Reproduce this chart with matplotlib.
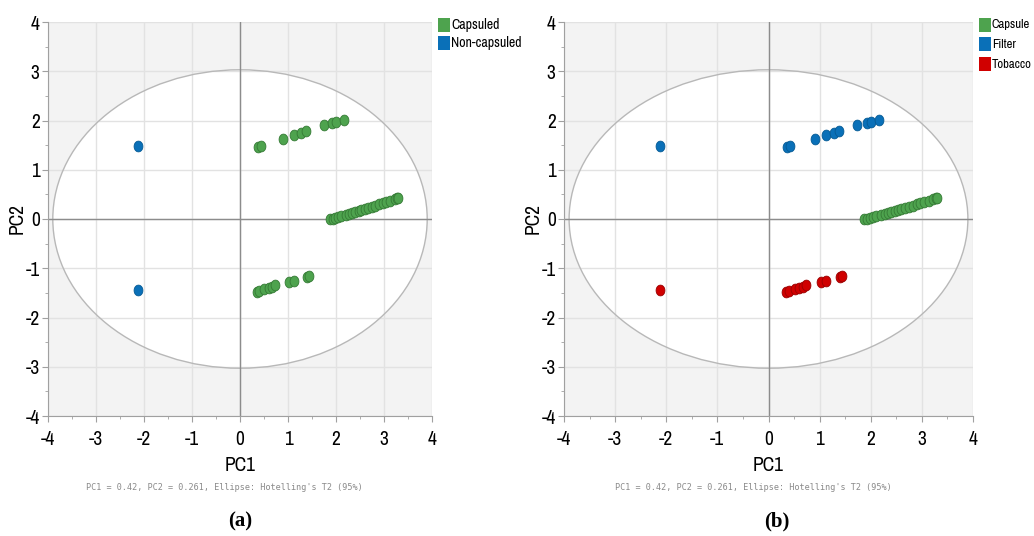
import numpy as np
import matplotlib
matplotlib.use('Agg')
import matplotlib.pyplot as plt
from matplotlib.patches import Ellipse, Rectangle
from matplotlib import font_manager


def wnum(w):
    if isinstance(w, (int, float)):
        return w
    return font_manager.weight_dict.get(w, 400)


# pick a narrow, regular-weight sans if one is installed
cands = [f for f in font_manager.fontManager.ttflist
         if ('Condensed' in f.name or 'Narrow' in f.name
             or f.stretch in ('condensed', 'semi-condensed', 'extra-condensed', 600, 700))
         and 'Mono' not in f.name and f.style == 'normal']
cands.sort(key=lambda f: (abs(wnum(f.weight) - 400), f.name))
if cands:
    pick = cands[0]
    plt.rcParams['font.family'] = [pick.name, 'DejaVu Sans']
    plt.rcParams['font.stretch'] = pick.stretch
    plt.rcParams['font.weight'] = wnum(pick.weight)
else:
    plt.rcParams['font.family'] = ['Lato', 'DejaVu Sans']
plt.rcParams['axes.unicode_minus'] = False

# score data (PC1, PC2)
upper_x = [0.37, 0.43, 0.90, 1.12, 1.28, 1.38, 1.74, 1.92, 2.00, 2.16]
upper_y = [1.47, 1.49, 1.62, 1.70, 1.75, 1.78, 1.91, 1.95, 1.97, 2.01]
middle_x = [1.87, 1.93, 1.98, 2.04, 2.10, 2.20, 2.27, 2.33, 2.40, 2.47, 2.53,
            2.60, 2.67, 2.74, 2.82, 2.90, 2.97, 3.05, 3.13, 3.22, 3.28, 3.30]
middle_y = [-0.01, 0.01, 0.03, 0.04, 0.06, 0.09, 0.11, 0.13, 0.15, 0.17, 0.19,
            0.21, 0.23, 0.25, 0.27, 0.30, 0.32, 0.34, 0.37, 0.40, 0.42, 0.43]
lower_x = [0.35, 0.40, 0.51, 0.60, 0.67, 0.73, 1.03, 1.13, 1.39, 1.44]
lower_y = [-1.49, -1.47, -1.43, -1.41, -1.38, -1.35, -1.28, -1.25, -1.17, -1.15]
filt_out = (-2.12, 1.49)
tob_out = (-2.12, -1.45)

ell_w, ell_h = 3.9, 3.03
ticks = [-4, -3, -2, -1, 0, 1, 2, 3, 4]

green, green_e = '#4ea34e', '#357a35'
blue, blue_e = '#0a70b8', '#055a94'
red, red_e = '#d00000', '#9a0000'

t = np.linspace(0, 2 * np.pi, 40)
oval = list(zip(0.82 * np.cos(t), np.sin(t)))


def setup(ax):
    ax.set_xlim(-4, 4)
    ax.set_ylim(-4, 4)
    ax.set_facecolor('#f3f3f3')
    ax.add_patch(Ellipse((0, 0), 2 * ell_w, 2 * ell_h, facecolor='white',
                         edgecolor='none', zorder=0.5))
    for v in ticks:
        ax.axvline(v, color='#e2e2e2', lw=1, zorder=1)
        ax.axhline(v, color='#e2e2e2', lw=1, zorder=1)
    ax.add_patch(Ellipse((0, 0), 2 * ell_w, 2 * ell_h, facecolor='none',
                         edgecolor='#b8b8b8', lw=1, zorder=2))
    ax.axvline(0, color='#8c8c8c', lw=1, zorder=2)
    ax.axhline(0, color='#8c8c8c', lw=1, zorder=2)
    for s in ['top', 'right']:
        ax.spines[s].set_visible(False)
    for s in ['left', 'bottom']:
        ax.spines[s].set_color('#a0a0a0')
    ax.set_xticks(ticks)
    ax.set_yticks(ticks)
    ax.set_xticks(np.arange(-3.5, 4, 1), minor=True)
    ax.set_yticks(np.arange(-3.5, 4, 1), minor=True)
    ax.tick_params(which='major', length=4, color='#a0a0a0', labelsize=14, pad=2)
    ax.tick_params(axis='x', which='major', pad=6)
    ax.tick_params(which='minor', length=2, color='#a0a0a0')
    ax.set_xlabel('PC1', fontsize=14, labelpad=5)
    ax.set_ylabel('PC2', fontsize=14, labelpad=-1)


def pts(ax, x, y, c, e):
    ax.scatter(x, y, s=60, marker=oval, c=c, edgecolors=e, linewidths=0.6, zorder=3)


fig = plt.figure(figsize=(10.34, 5.36), dpi=100)
ax1 = fig.add_axes([48 / 1034, 1 - 416 / 536, 384 / 1034, 394 / 536])
ax2 = fig.add_axes([564 / 1034, 1 - 416 / 536, 409 / 1034, 394 / 536])
setup(ax1)
setup(ax2)

# (a) capsuled vs non-capsuled
pts(ax1, upper_x + middle_x + lower_x, upper_y + middle_y + lower_y, green, green_e)
pts(ax1, [filt_out[0], tob_out[0]], [filt_out[1], tob_out[1]], blue, blue_e)

# (b) capsule / filter / tobacco
pts(ax2, middle_x, middle_y, green, green_e)
pts(ax2, upper_x + [filt_out[0]], upper_y + [filt_out[1]], blue, blue_e)
pts(ax2, lower_x + [tob_out[0]], lower_y + [tob_out[1]], red, red_e)

note = "PC1 = 0.42, PC2 = 0.261, Ellipse: Hotelling's T2 (95%)"
fig.text(224 / 1034, 1 - 487 / 536, note, ha='center', va='center',
         fontsize=6.1, color='#8a8a8a', family='DejaVu Sans Mono', weight='normal')
fig.text(753 / 1034, 1 - 487 / 536, note, ha='center', va='center',
         fontsize=6.1, color='#8a8a8a', family='DejaVu Sans Mono', weight='normal')

fig.text(240 / 1034, 1 - 521 / 536, '(a)', ha='center', va='center',
         fontsize=15, fontweight='bold', family=['Liberation Serif', 'DejaVu Serif'])
fig.text(777 / 1034, 1 - 521 / 536, '(b)', ha='center', va='center',
         fontsize=15, fontweight='bold', family=['Liberation Serif', 'DejaVu Serif'])


def legend(x0, labels, colors, ys, size):
    for lab, c, y in zip(labels, colors, ys):
        fig.patches.append(Rectangle((x0 / 1034, 1 - (y + 7) / 536), 12 / 1034, 14 / 536,
                                     transform=fig.transFigure, facecolor=c,
                                     edgecolor='none', figure=fig))
        fig.text((x0 + 13) / 1034, 1 - y / 536, lab, ha='left', va='center', fontsize=size)


legend(438, ['Capsuled', 'Non-capsuled'], [green, blue], [25, 43], 10)
legend(979, ['Capsule', 'Filter', 'Tobacco'], [green, blue, red], [25, 44, 64], 9.2)

fig.savefig('out.png', dpi=100)
